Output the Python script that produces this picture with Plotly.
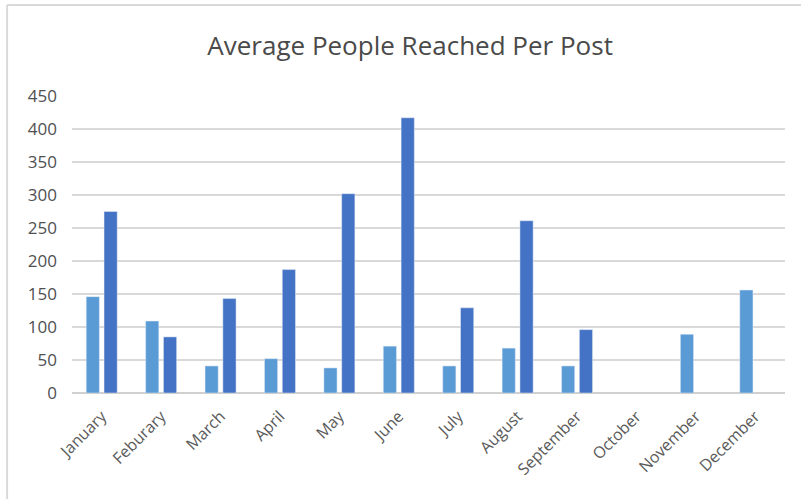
import plotly.graph_objects as go

months = ["January", "Feburary", "March", "April", "May", "June", "July",
          "August", "September", "October", "November", "December"]
series_a = [146, 109, 41, 52, 38, 71, 41, 68, 41, None, 89, 156]
series_b = [275, 85, 143, 187, 302, 417, 129, 261, 96, None, None, None]
y_ticks = [0, 50, 100, 150, 200, 250, 300, 350, 400, 450]

fig = go.Figure()
fig.add_trace(go.Bar(x=months, y=series_a, marker_color="#5B9BD5", name="Series 1"))
fig.add_trace(go.Bar(x=months, y=series_b, marker_color="#4472C4", name="Series 2"))

font_family = "Open Sans, Liberation Sans, sans-serif"
fig.update_layout(
    width=801, height=499,
    margin=dict(l=72, r=16, t=96, b=106),
    paper_bgcolor="white", plot_bgcolor="white",
    barmode="group", bargap=0.40, bargroupgap=0.26,
    showlegend=False,
    title=dict(text="Average People Reached Per Post", x=0.512, xanchor="center",
               y=0.908, yanchor="middle", xref="container", yref="container",
               font=dict(family=font_family, size=26, color="#4a4a4a")),
    font=dict(family=font_family, color="#505050"),
)
fig.update_yaxes(range=[0, 450], tickvals=y_ticks, showgrid=True, gridcolor="#d9d9d9",
                 gridwidth=1.5, zeroline=True, zerolinecolor="#d0d0d0", zerolinewidth=1.5,
                 showline=False, ticks="", tickfont=dict(size=17, color="#505050"),
                 ticklabelstandoff=14)
fig.update_xaxes(tickangle=-45, showgrid=False, showline=False, ticks="",
                 tickfont=dict(size=16, color="#5a5a5a"), ticklabelstandoff=10)

# outer chart border (Excel-style frame)
fig.add_shape(type="line", xref="paper", yref="paper", x0=-0.091, x1=1.03, y0=1.306, y1=1.306,
              line=dict(color="#d9d9d9", width=2))
fig.add_shape(type="line", xref="paper", yref="paper", x0=-0.091, x1=-0.091, y0=1.306, y1=-0.4,
              line=dict(color="#d9d9d9", width=2))

fig.write_html("out.html")
